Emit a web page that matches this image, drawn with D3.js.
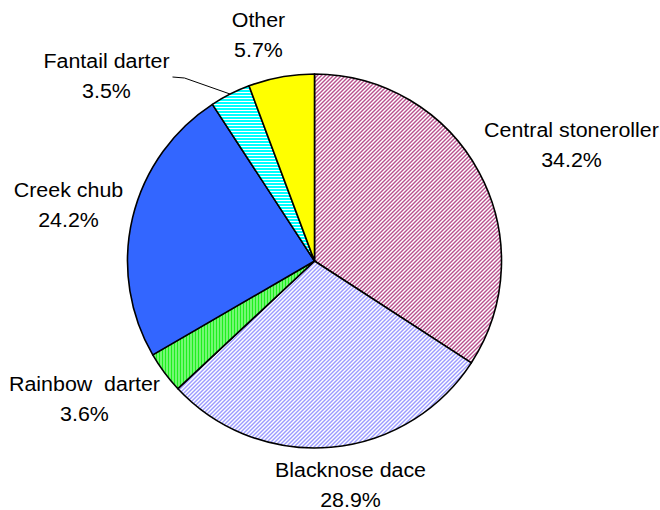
<!DOCTYPE html>
<html>
<head>
<meta charset="utf-8">
<script src="https://cdn.jsdelivr.net/npm/d3@7"></script>
<style>
  html, body { margin: 0; padding: 0; background: #fff; }
  svg { display: block; }
  text { font-family: "Liberation Sans", Arial, sans-serif; fill: #000; }
</style>
</head>
<body>
<svg id="chart" width="660" height="510"></svg>
<script>
// Fish species composition (percent of individuals)
const species = ["Central stoneroller", "Blacknose dace", "Rainbow  darter", "Creek chub", "Fantail darter", "Other"];
const percents = [34.2, 28.9, 3.6, 24.2, 3.5, 5.7];
const fills = ["stoneroller", "dace", "rainbow", "#3366ff", "fantail", "#ffff00"];

// Label anchor offsets from the pie centre (centre x, first baseline)
const labelOffsets = [[257, -124], [36, 216], [-230, 130], [-246, -64], [-208, -193], [-56, -234]];

const W = 660, H = 510;
const cx = 314.5, cy = 261, R = 187;
const svg = d3.select("#chart");
const defs = svg.append("defs");

// Hatch patterns for the slices
function pattern(id, w, h, bg, cells) {
  const p = defs.append("pattern")
    .attr("id", id).attr("patternUnits", "userSpaceOnUse")
    .attr("width", w).attr("height", h);
  p.append("rect").attr("width", w).attr("height", h).attr("fill", bg)
    .attr("shape-rendering", "crispEdges");
  cells.forEach(([x, y, cw, ch, col]) => {
    p.append("rect").attr("x", x).attr("y", y).attr("width", cw).attr("height", ch)
      .attr("fill", col).attr("shape-rendering", "crispEdges");
  });
}
// diagonal fine hatch (4x4)
function diag(col) {
  const c = [];
  for (let y = 0; y < 4; y++) {
    for (let x = 0; x < 4; x++) {
      if (((x + y) % 4) < 2) c.push([x, y, 1, 1, col]);
    }
  }
  return c;
}
pattern("stoneroller", 4, 4, "#ffffff", diag("#b8508e"));
pattern("dace", 4, 4, "#ffffff", diag("#9b9bff"));
pattern("rainbow", 3, 3, "#c8ffc8", [[0, 0, 2, 3, "#1ef01e"]]);
pattern("fantail", 3, 3, "#ffffff", [[0, 0, 3, 2, "#00ffff"]]);

const pie = d3.pie().sort(null).value(d => d)(percents);
const arc = d3.arc().innerRadius(0).outerRadius(R);

const g = svg.append("g").attr("transform", `translate(${cx},${cy})`);
g.selectAll("path.slice")
  .data(pie)
  .join("path")
  .attr("class", "slice")
  .attr("d", arc)
  .attr("fill", (d, i) => fills[i].startsWith("#") ? fills[i] : `url(#${fills[i]})`)
  .attr("stroke", "#000")
  .attr("stroke-width", 1.6)
  .attr("stroke-linejoin", "round");

// Leader line for the Fantail darter label
const fi = 4;
const fa = (pie[fi].startAngle + pie[fi].endAngle) / 2;
const edge = [R * Math.sin(fa), -R * Math.cos(fa)];
const lo = labelOffsets[fi];
g.append("polyline")
  .attr("points", [[lo[0] + 66, lo[1] + 9], [lo[0] + 78, lo[1] + 10], edge].map(p => p.join(",")).join(" "))
  .attr("fill", "none")
  .attr("stroke", "#000")
  .attr("stroke-width", 1);

// Category + percentage labels
const labels = g.selectAll("g.label")
  .data(pie)
  .join("g")
  .attr("class", "label")
  .attr("transform", (d, i) => `translate(${labelOffsets[i][0]},${labelOffsets[i][1]}) scale(1.07,1)`);
labels.append("text")
  .attr("text-anchor", "middle")
  .attr("font-size", 20)
  .style("white-space", "pre")
  .attr("xml:space", "preserve")
  .text((d, i) => species[i]);
labels.append("text")
  .attr("text-anchor", "middle")
  .attr("font-size", 20)
  .attr("y", 29.6)
  .text(d => d3.format(".1f")(d.data) + "%");
</script>
</body>
</html>
